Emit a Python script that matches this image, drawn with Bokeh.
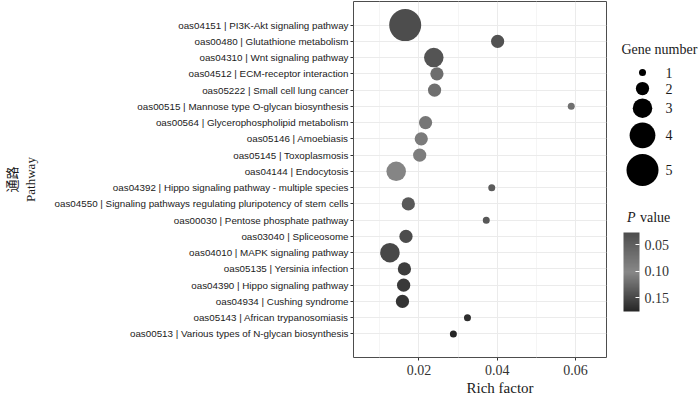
from bokeh.plotting import figure
from bokeh.models import (FactorRange, Range1d, FixedTicker, LinearColorMapper, ColorBar,
                          LinearInterpolator, ColumnDataSource, CustomJSTickFormatter, Label, Title,
                          AllLabels)
from bokeh.layouts import row
from bokeh.core.properties import value
from bokeh.embed import file_html
from bokeh.resources import INLINE

# ---------------- data (top to bottom as in the chart) ----------------
pathways = [
    "oas04151 | PI3K-Akt signaling pathway",
    "oas00480 | Glutathione metabolism",
    "oas04310 | Wnt signaling pathway",
    "oas04512 | ECM-receptor interaction",
    "oas05222 | Small cell lung cancer",
    "oas00515 | Mannose type O-glycan biosynthesis",
    "oas00564 | Glycerophospholipid metabolism",
    "oas05146 | Amoebiasis",
    "oas05145 | Toxoplasmosis",
    "oas04144 | Endocytosis",
    "oas04392 | Hippo signaling pathway - multiple species",
    "oas04550 | Signaling pathways regulating pluripotency of stem cells",
    "oas00030 | Pentose phosphate pathway",
    "oas03040 | Spliceosome",
    "oas04010 | MAPK signaling pathway",
    "oas05135 | Yersinia infection",
    "oas04390 | Hippo signaling pathway",
    "oas04934 | Cushing syndrome",
    "oas05143 | African trypanosomiasis",
    "oas00513 | Various types of N-glycan biosynthesis",
]
rich_factor = [0.0165, 0.0401, 0.0238, 0.0246, 0.0240, 0.0589, 0.0217, 0.0206, 0.0202, 0.0142,
               0.0386, 0.0173, 0.0372, 0.0167, 0.0126, 0.0163, 0.0161, 0.0158, 0.0324, 0.0288]
gene_number = [5, 2, 3, 2, 2, 1, 2, 2, 2, 3, 1, 2, 1, 2, 3, 2, 2, 2, 1, 1]
p_value = [0.027, 0.033, 0.036, 0.068, 0.070, 0.071, 0.080, 0.085, 0.088, 0.097,
           0.135, 0.137, 0.138, 0.147, 0.150, 0.158, 0.161, 0.165, 0.170, 0.176]

x_ticks = [0.02, 0.04, 0.06]
x_minor_ticks = [0.01, 0.03, 0.05]
legend_genes = [1, 2, 3, 4, 5]
cbar_ticks = [0.05, 0.10, 0.15]

# ---------------- styles ----------------
SERIF = "'Liberation Serif', 'Times New Roman', serif"
SANS = "'Liberation Sans', Arial, Helvetica, sans-serif"
CJK_SERIF = "'Liberation Serif', 'Noto Sans CJK SC', serif"
TEXT = "#333333"
DARK = "#1a1a1a"
GRID = "#ebebeb"
MINOR_GRID = "#f5f5f5"
BORDER = "#4d4d4d"
SIZE_RANGE = [7, 32]
ANCHORS = ["#4d4d4d", "#888888", "#262626"]


def _hex(c):
    c = c.lstrip("#")
    return [int(c[i:i + 2], 16) for i in (0, 2, 4)]


def build_palette(anchors, n=256):
    rgb = [_hex(a) for a in anchors]
    out = []
    seg = len(rgb) - 1
    for i in range(n):
        t = i / (n - 1) * seg
        k = min(int(t), seg - 1)
        f = t - k
        c = [round(rgb[k][j] + (rgb[k + 1][j] - rgb[k][j]) * f) for j in range(3)]
        out.append("#%02x%02x%02x" % tuple(c))
    return out


palette = build_palette(ANCHORS)
p_lo, p_hi = min(p_value), max(p_value)
mapper = LinearColorMapper(palette=palette, low=p_lo, high=p_hi)
size_map = LinearInterpolator(x=[min(legend_genes), max(legend_genes)], y=SIZE_RANGE)

# ---------------- main panel ----------------
H = 395
FRAME_TOP, FRAME_BOTTOM = 1, 357
p = figure(width=607, height=H,
           y_range=FactorRange(factors=pathways[::-1], range_padding=0.95, range_padding_units="absolute"),
           x_range=Range1d(0.0033, 0.0679),
           output_backend="svg", toolbar_location=None,
           min_border_left=353, min_border_right=1, min_border_top=FRAME_TOP,
           min_border_bottom=H - FRAME_BOTTOM)
p.outline_line_color = BORDER
p.outline_line_width = 1
p.background_fill_color = "white"

src = ColumnDataSource(dict(pathway=pathways, rich=rich_factor, genes=gene_number, p=p_value))
p.scatter(x="rich", y="pathway", source=src,
          size={"field": "genes", "transform": size_map},
          fill_color={"field": "p", "transform": mapper}, line_color=None)

xt = FixedTicker(ticks=x_ticks, minor_ticks=x_minor_ticks)
p.xaxis.ticker = xt
p.xgrid.ticker = xt
p.xgrid.grid_line_color = GRID
p.xgrid.minor_grid_line_color = MINOR_GRID
p.ygrid.grid_line_color = GRID

p.xaxis.axis_line_color = None
p.xaxis.major_tick_line_color = TEXT
p.xaxis.major_tick_out = 3
p.xaxis.major_tick_in = 0
p.xaxis.minor_tick_line_color = None
p.xaxis.major_label_text_font = SERIF
p.xaxis.major_label_text_font_size = "14px"
p.xaxis.major_label_text_color = TEXT
p.xaxis.major_label_standoff = 3

p.yaxis.axis_line_color = None
p.yaxis.major_tick_line_color = TEXT
p.yaxis.major_tick_out = 3
p.yaxis.major_tick_in = 0
p.yaxis.major_label_text_font = SANS
p.yaxis.major_label_text_font_size = "9.8px"
p.yaxis.major_label_text_color = DARK
p.yaxis.major_label_standoff = 2
p.yaxis.axis_label = "通路\nPathway"
p.yaxis.axis_label_text_font = CJK_SERIF
p.yaxis.axis_label_text_font_style = "normal"
p.yaxis.axis_label_text_font_size = "13px"
p.yaxis.axis_label_text_color = DARK
p.yaxis.axis_label_standoff = 14

p.add_layout(Title(text="Rich factor", align="left", offset=113, standoff=0, text_font=SERIF,
                   text_font_size="15px", text_font_style="normal", text_color=DARK), "below")

# ---------------- legend panel (frame aligned with the main panel) ----------------
LW = 700 - 607
leg = figure(width=LW, height=H, x_range=Range1d(0, LW), y_range=Range1d(FRAME_BOTTOM, FRAME_TOP),
             x_axis_type=None, y_axis_type=None, output_backend="svg", toolbar_location=None,
             min_border_left=0, min_border_right=0, min_border_top=FRAME_TOP,
             min_border_bottom=H - FRAME_BOTTOM)
leg.outline_line_color = None

leg.add_layout(Label(x=14, y=49, text="Gene number", text_font=SERIF, text_font_size="14px",
                     text_baseline="middle", text_color=DARK))

diam = [SIZE_RANGE[0] + (g - legend_genes[0]) * (SIZE_RANGE[1] - SIZE_RANGE[0]) /
        (legend_genes[-1] - legend_genes[0]) for g in legend_genes]
keys = [max(16, 1.2 * d) for d in diam]
top = 72 - keys[0] / 2
centers = []
for k in keys:
    centers.append(top + k / 2)
    top += k
lsrc = ColumnDataSource(dict(x=[35] * len(legend_genes), y=centers, genes=legend_genes,
                             lab=[str(g) for g in legend_genes], tx=[58] * len(legend_genes)))
leg.scatter(x="x", y="y", source=lsrc, size={"field": "genes", "transform": size_map},
            fill_color="black", line_color=None)
leg.text(x="tx", y="y", text="lab", source=lsrc, text_font=value(SERIF), text_font_size="14px",
         text_baseline="middle", text_color=DARK)

leg.add_layout(Label(x=19.5, y=217, text="P", text_font=SERIF, text_font_size="14px",
                     text_font_style="italic", text_baseline="middle", text_color=DARK))
leg.add_layout(Label(x=32.5, y=217, text="value", text_font=SERIF, text_font_size="14px",
                     text_baseline="middle", text_color=DARK))

cbar_mapper = LinearColorMapper(palette=palette[::-1], low=-p_hi, high=-p_lo)
cb = ColorBar(color_mapper=cbar_mapper, orientation="vertical", width=16, height=79,
              location=(16, FRAME_BOTTOM - 311), padding=0, border_line_color=None,
              background_fill_color=None,
              ticker=FixedTicker(ticks=sorted(-t for t in cbar_ticks)),
              formatter=CustomJSTickFormatter(code="return (-tick).toFixed(2)"),
              major_label_policy=AllLabels(),
              major_label_text_font=SERIF, major_label_text_font_size="14px",
              major_label_text_color=TEXT, major_tick_line_color="white",
              major_tick_in=4, major_tick_out=0, label_standoff=5, bar_line_color=None)
leg.add_layout(cb)

layout = row(p, leg)
open("out.html", "w").write(file_html(layout, INLINE))
